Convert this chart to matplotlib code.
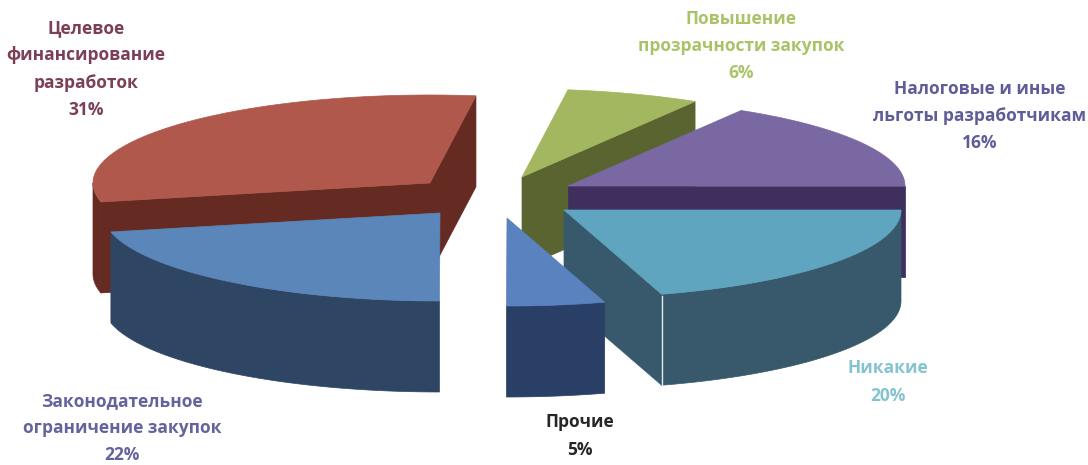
import numpy as np
import matplotlib
matplotlib.use("Agg")
import matplotlib.pyplot as plt
from matplotlib.patches import Polygon

plt.rcParams['font.family'] = ['Open Sans', 'DejaVu Sans']

# clockwise from 3 o'clock
names = ["Никакие", "Прочие", "Законодательное\nограничение закупок",
         "Целевое\nфинансирование\nразработок", "Повышение\nпрозрачности закупок",
         "Налоговые и иные\nльготы разработчикам"]
shares = [20.3, 4.7, 21.5, 30.6, 6.4, 16.4]
top_colors = ["#60a5bf", "#5a82bf", "#5b86b9", "#b0584b", "#a2b75f", "#7a68a2"]
side_colors = ["#38596b", "#2a3f66", "#2e4563", "#652a22", "#5a6430", "#3e2f5e"]
text_colors = ["#84c3cf", "#262626", "#65639b", "#7b3f57", "#aac368", "#5f5c98"]

# slice apex after explosion, pixels
apex_x = [564, 507, 440, 430, 522, 568]
apex_y = [210, 218, 213, 183, 177, 186]
label_x = [888, 580, 122, 86, 741, 980]
label_y = [382, 436, 428, 69, 46, 116]

rx = 337
ry = 88
depth = 91

fig = plt.figure(figsize=(10.88, 4.65), dpi=100)
ax = fig.add_axes([0, 0, 1, 1])
ax.set_xlim(0, 1088)
ax.set_ylim(465, 0)
ax.axis('off')


def arc(cx, cy, t1, t2):
    t = np.radians(np.linspace(t1, t2, 80))
    return np.column_stack([cx + rx * np.cos(t), cy - ry * np.sin(t)])


def solid(pts, color, z):
    ax.add_patch(Polygon(pts, closed=True, fc=color, ec=color, lw=0.5, zorder=z))


def cut_face(cx, cy, t, color, z):
    a = np.radians(t)
    x = cx + rx * np.cos(a)
    y = cy - ry * np.sin(a)
    solid([(cx, cy), (x, y), (x, y + depth), (cx, cy + depth)], color, z)


# wedge limits
ends = -np.cumsum(shares) / np.sum(shares) * 360
starts = np.concatenate([[0], ends[:-1]])

# painter's order, back slices first
order = [4, 5, 3, 0, 2, 1]
for n, i in enumerate(order):
    cx, cy, t1, t2 = apex_x[i], apex_y[i], starts[i], ends[i]
    z = 10 * (n + 1)
    # faces of the cuts that look at the viewer
    if np.cos(np.radians(t1)) < -0.01:
        cut_face(cx, cy, t1, side_colors[i], z)
    if np.cos(np.radians(t2)) > 0.01:
        cut_face(cx, cy, t2, side_colors[i], z)
    # outer wall only on the front half
    lo = max(t2, -180)
    hi = min(t1, 0)
    if hi > lo:
        rim = arc(cx, cy, lo, hi)
        solid(np.vstack([rim, (rim + [0, depth])[::-1]]), side_colors[i], z + 1)
    # top
    solid(np.vstack([[cx, cy], arc(cx, cy, t1, t2)]), top_colors[i], z + 2)
    # light edge on the outer corner of Никакие
    if i == 0:
        a = np.radians(t2)
        x = cx + rx * np.cos(a)
        y = cy - ry * np.sin(a)
        ax.plot([x, x], [y + 2, y + depth], color="#dfe8ec", lw=1, zorder=z + 3)

for i in range(len(names)):
    txt = names[i] + "\n" + str(round(shares[i])) + "%"
    ax.text(label_x[i], label_y[i], txt, color=text_colors[i], fontsize=12.5, fontweight='bold',
            ha='center', va='center', linespacing=1.65, zorder=100)

fig.savefig("out.png", dpi=100)
